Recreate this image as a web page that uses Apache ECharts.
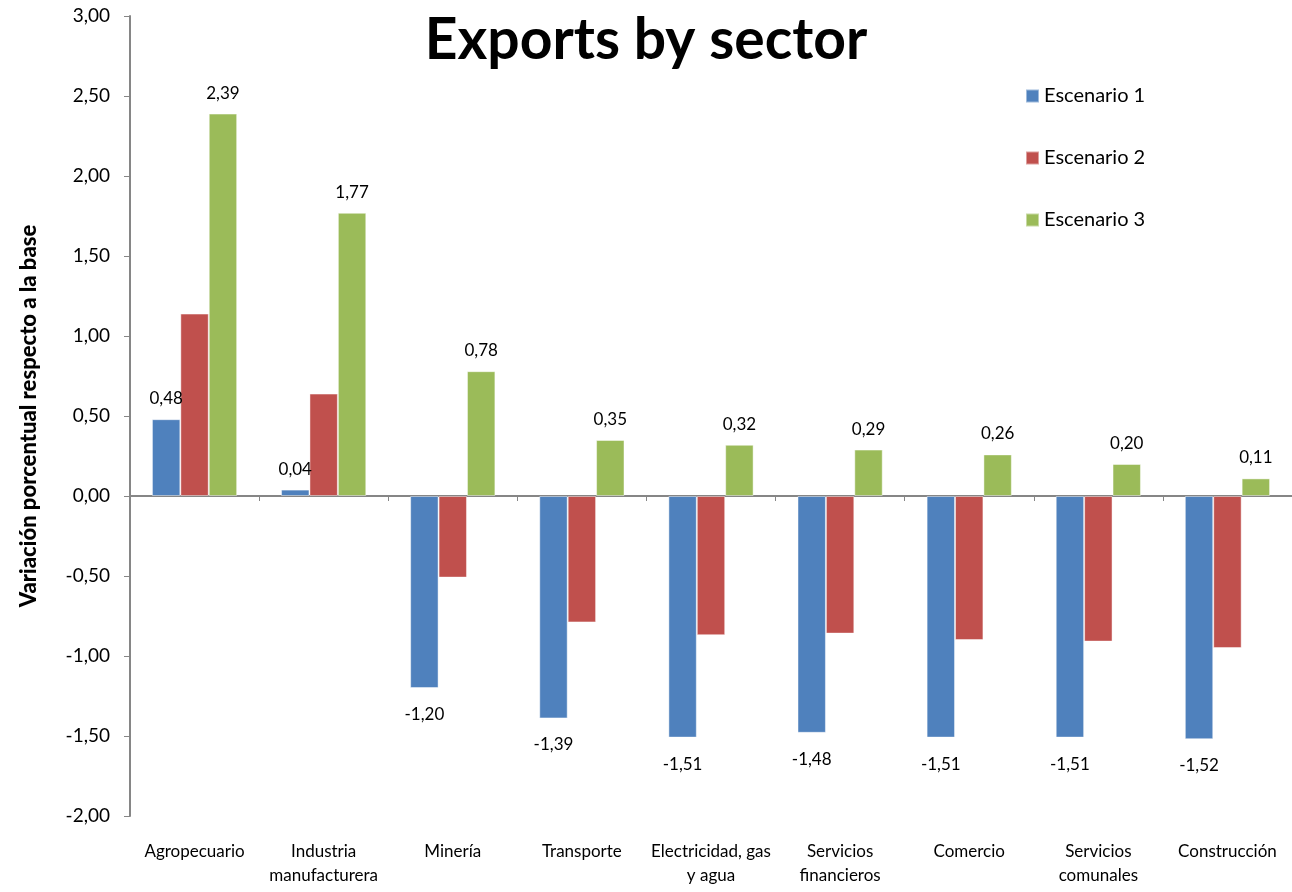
<!DOCTYPE html>
<html>
<head>
<meta charset="utf-8">
<title>Exports by sector</title>
<script src="https://cdn.jsdelivr.net/npm/echarts@6/dist/echarts.min.js"></script>
<style>
  html, body { margin: 0; padding: 0; background: #ffffff; }
  #chart { width: 1292px; height: 892px; }
</style>
</head>
<body>
<div id="chart"></div>
<script>
// Sectors along the horizontal axis
const sectors = [
  'Agropecuario',
  'Industria\nmanufacturera',
  'Minería',
  'Transporte',
  'Electricidad, gas\ny agua',
  'Servicios\nfinancieros',
  'Comercio',
  'Servicios\ncomunales',
  'Construcción'
];

// Percentage change relative to the base, per scenario
const escenario1 = [0.48, 0.04, -1.20, -1.39, -1.51, -1.48, -1.51, -1.51, -1.52];
const escenario2 = [1.14, 0.64, -0.51, -0.79, -0.87, -0.86, -0.90, -0.91, -0.95];
const escenario3 = [2.39, 1.77, 0.78, 0.35, 0.32, 0.29, 0.26, 0.20, 0.11];

const seriesNames = ['Escenario 1', 'Escenario 2', 'Escenario 3'];
const seriesColors = ['#4F81BD', '#C0504D', '#9BBB59'];

const FONT = 'Lato, "Open Sans", sans-serif';

const fmt = v => v.toFixed(2).replace('.', ',');

// Value labels sit above positive bars and below negative ones
function labelledData(values) {
  return values.map(v => ({
    value: v,
    label: {
      show: true,
      position: v >= 0 ? 'top' : 'bottom',
      distance: v >= 0 ? 12 : 18
    }
  }));
}

function barSeries(idx, values, withLabels) {
  return {
    name: seriesNames[idx],
    type: 'bar',
    xAxisIndex: 0,
    barGap: '0%',
    barCategoryGap: '34%',
    itemStyle: {
      color: seriesColors[idx],
      borderColor: 'rgba(255,255,255,0.45)',
      borderWidth: 1
    },
    label: {
      show: false,
      formatter: p => fmt(p.value),
      color: '#000',
      fontFamily: FONT,
      fontSize: 17
    },
    data: withLabels ? labelledData(values) : values.slice()
  };
}

const chart = echarts.init(document.getElementById('chart'), null, { renderer: 'canvas' });

chart.setOption({
  backgroundColor: '#ffffff',
  animation: false,
  title: {
    text: 'Exports by sector',
    left: 'center',
    top: 7,
    textStyle: {
      fontFamily: FONT,
      fontWeight: 'bold',
      fontSize: 57,
      color: '#000'
    }
  },
  legend: {
    orient: 'vertical',
    left: 1020,
    top: 81,
    itemWidth: 13,
    itemHeight: 13,
    itemGap: 42,
    icon: 'rect',
    data: seriesNames,
    textStyle: {
      fontFamily: FONT,
      fontSize: 20,
      lineHeight: 20,
      color: '#000'
    }
  },
  grid: {
    left: 130,
    top: 16,
    width: 1170,
    height: 800,
    containLabel: false
  },
  xAxis: [
    {
      // Category axis drawn along the zero line
      type: 'category',
      data: sectors,
      axisLine: { onZero: true, lineStyle: { color: '#868686', width: 2 } },
      axisTick: { show: true, length: 5, lineStyle: { color: '#868686', width: 1 } },
      axisLabel: { show: false },
      splitLine: { show: false }
    },
    {
      // Sector names placed along the bottom of the plot
      type: 'category',
      data: sectors,
      position: 'bottom',
      axisLine: { show: false, onZero: false },
      axisTick: { show: false },
      axisLabel: {
        show: true,
        interval: 0,
        margin: 24,
        fontFamily: FONT,
        fontSize: 17,
        lineHeight: 24,
        color: '#000'
      },
      splitLine: { show: false }
    }
  ],
  yAxis: {
    type: 'value',
    min: -2,
    max: 3,
    interval: 0.5,
    name: 'Variación porcentual respecto a la base',
    nameLocation: 'middle',
    nameRotate: 90,
    nameGap: 90,
    nameTextStyle: {
      fontFamily: FONT,
      fontWeight: 900,
      fontSize: 22,
      color: '#000'
    },
    axisLine: { show: true, lineStyle: { color: '#868686', width: 2 } },
    axisTick: { show: true, inside: false, length: 6, lineStyle: { color: '#868686', width: 1 } },
    axisLabel: {
      formatter: v => fmt(v),
      margin: 20,
      fontFamily: FONT,
      fontSize: 19,
      color: '#000'
    },
    splitLine: { show: false }
  },
  series: [
    barSeries(0, escenario1, true),
    barSeries(1, escenario2, false),
    barSeries(2, escenario3, true)
  ]
});
</script>
</body>
</html>
